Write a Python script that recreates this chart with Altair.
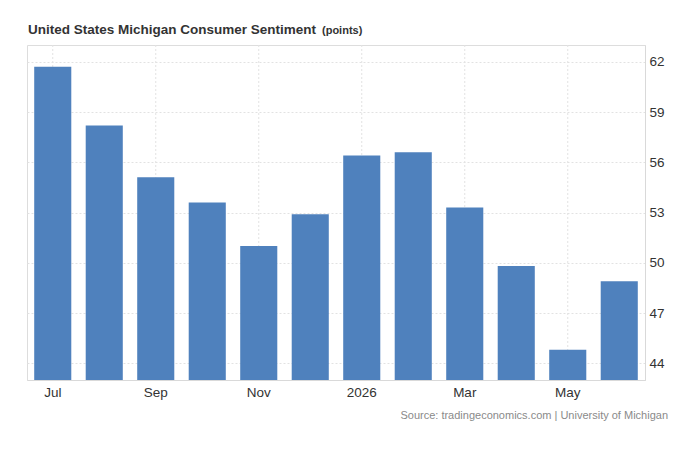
import altair as alt
import pandas as pd

months = ["Jul", "Aug", "Sep", "Oct", "Nov", "Dec", "2026", "Feb", "Mar", "Apr", "May", "Jun"]
values = [61.7, 58.2, 55.1, 53.6, 51.0, 52.9, 56.4, 56.6, 53.3, 49.8, 44.8, 48.9]
shown_labels = ["Jul", "Sep", "Nov", "2026", "Mar", "May"]
y_ticks = [44, 47, 50, 53, 56, 59, 62]

title_main = "United States Michigan Consumer Sentiment"
title_unit = "(points)"
source_text = "Source: tradingeconomics.com | University of Michigan"

df = pd.DataFrame({"month": months, "value": values})
grid_df = pd.DataFrame({"month": shown_labels})
one = pd.DataFrame({"k": [0]})

FONT = "Liberation Sans"
GRID = "#e2e2e2"

x_scale = alt.Scale(domain=months, paddingInner=0.28, paddingOuter=0.14)
y_scale = alt.Scale(domain=[43, 63], zero=False, nice=False)

label_list = "[" + ",".join("'" + s + "'" for s in shown_labels) + "]"
x_axis = alt.Axis(
    orient="bottom", title=None, grid=False, ticks=False, labelAngle=0,
    labelExpr="indexof(" + label_list + ", datum.value) >= 0 ? datum.value : ''",
    labelFontSize=13.5, labelColor="#333333", labelPadding=5,
    domainColor="#d9d9d9", labelFont=FONT,
)
y_axis = alt.Axis(
    orient="right", title=None, values=y_ticks, grid=True, gridColor=GRID,
    gridDash=[2, 2], ticks=False, domain=True, domainColor="#d9d9d9",
    labelFontSize=13.5, labelColor="#333333", labelPadding=4, labelFont=FONT,
)

grid = alt.Chart(grid_df).mark_rule(color=GRID, strokeDash=[2, 2], strokeWidth=1).encode(
    x=alt.X("month:N", scale=x_scale, axis=x_axis, sort=months),
)

bars = alt.Chart(df).mark_bar(color="#4f81bd", clip=True).encode(
    x=alt.X("month:N", scale=x_scale, axis=x_axis, sort=months),
    y=alt.Y("value:Q", scale=y_scale, axis=y_axis),
)

t1 = alt.Chart(one).mark_text(
    text=title_main, align="left", baseline="alphabetic", fontSize=13.5,
    fontWeight="bold", color="#333333", font=FONT,
).encode(x=alt.value(1), y=alt.value(-11))

t2 = alt.Chart(one).mark_text(
    text=title_unit, align="left", baseline="alphabetic", fontSize=11,
    fontWeight="bold", color="#333333", font=FONT,
).encode(x=alt.value(295), y=alt.value(-11))

src = alt.Chart(one).mark_text(
    text=source_text, align="right", baseline="alphabetic", fontSize=11,
    color="#8a8a8a", font=FONT,
).encode(x=alt.value(641), y=alt.value(374))

chart = alt.layer(grid, bars, t1, t2, src).properties(
    width=618, height=335,
    padding={"left": 19, "top": 37, "right": 26, "bottom": 70},
    autosize=alt.AutoSizeParams(type="none"),
).configure_view(
    stroke=GRID, strokeDash=[2, 2]
).configure(font=FONT)

chart.save("out.html", embed_options={"renderer": "svg", "actions": False})
